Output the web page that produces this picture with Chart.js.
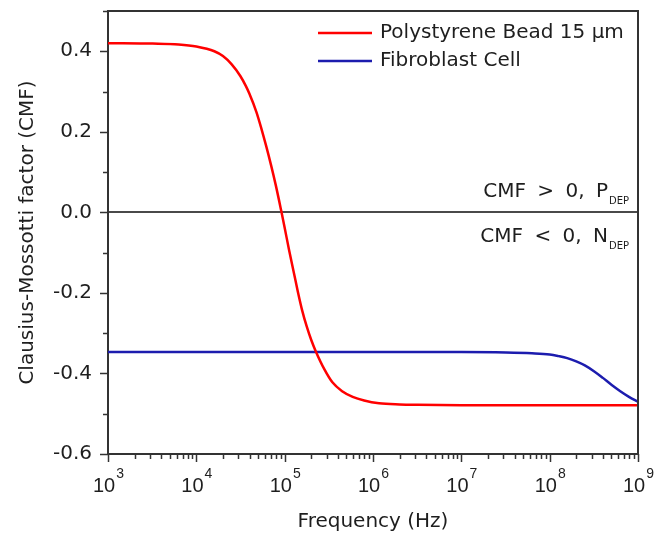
<!DOCTYPE html>
<html>
<head>
<meta charset="utf-8">
<script src="https://cdn.jsdelivr.net/npm/chart.js@4.4.0/dist/chart.umd.min.js"></script>
<style>
  body { margin: 0; background: #fff; }
  #wrap { width: 667px; height: 537px; }
</style>
</head>
<body>
<div id="wrap"><canvas id="cmfChart"></canvas></div>
<script>
// --- data (frequency in Hz, CMF) ---
const beadFreq = [1e3, 3.2e3, 6.3e3, 1e4, 1.6e4, 2e4, 2.5e4, 3.16e4, 3.63e4, 3.98e4, 4.79e4, 5.5e4,
                  6.17e4, 7e4, 7.94e4, 9.12e4, 1e5, 1.12e5, 1.26e5, 1.41e5, 1.58e5, 1.78e5, 2e5,
                  2.24e5, 2.82e5, 3.47e5, 4.47e5, 5.89e5, 7.94e5, 1.17e6, 2e6, 3.2e6, 1e7, 1e8, 1e9];
const beadCmf = [0.420, 0.419, 0.417, 0.412, 0.400, 0.388, 0.368, 0.338, 0.314, 0.295, 0.249, 0.205,
                 0.165, 0.118, 0.067, 0.005, -0.038, -0.093, -0.146, -0.197, -0.244, -0.284, -0.317,
                 -0.344, -0.390, -0.422, -0.444, -0.458, -0.467, -0.474, -0.477, -0.478, -0.479, -0.479, -0.479];

const cellFreq = [1e3, 1e5, 1e7, 3.2e7, 6.3e7, 1e8, 1.26e8, 1.58e8, 2e8, 2.5e8, 3.2e8, 4e8,
                  5e8, 6.3e8, 7.9e8, 1e9];
const cellCmf = [-0.347, -0.347, -0.347, -0.348, -0.350, -0.353, -0.357, -0.362, -0.370, -0.380,
                 -0.395, -0.411, -0.428, -0.444, -0.458, -0.470];

const seriesNames = ['Polystyrene Bead 15 \u03bcm', 'Fibroblast Cell'];
const seriesColors = ['#ff0000', '#1c1cae'];

const yLabels = [-0.6, -0.4, -0.2, 0.0, 0.2, 0.4];
const decades = [3, 4, 5, 6, 7, 8, 9];

const TXT = '#1e1e1e';
const AXIS = '#333';
const FONT = "'DejaVu Sans'";

function toPoints(xs, ys) {
    return xs.map((f, i) => ({ x: f, y: ys[i] }));
}

// custom bits: frame, tick marks, 10^n labels, legend, region notes
const extras = {
    id: 'extras',
    afterDraw(chart) {
        const { ctx, chartArea: a, scales: { x, y } } = chart;
        ctx.save();
        ctx.strokeStyle = AXIS;
        ctx.lineWidth = 2;
        ctx.beginPath();
        ctx.moveTo(a.left, a.top);
        ctx.lineTo(a.right, a.top);
        ctx.lineTo(a.right, a.bottom);
        ctx.stroke();

        // y tick marks (outside)
        ctx.lineWidth = 1.5;
        y.ticks.forEach(t => {
            const py = Math.round(y.getPixelForValue(t.value)) + 0.5;
            const major = yLabels.some(v => Math.abs(v - t.value) < 1e-6);
            ctx.beginPath();
            ctx.moveTo(a.left, py);
            ctx.lineTo(a.left - (major ? 8 : 5), py);
            ctx.stroke();
        });

        // x tick marks (outside) + labels
        decades.forEach((d, i) => {
            for (let m = 1; m <= 9; m++) {
                if (i === decades.length - 1 && m > 1) break;
                const px = Math.round(x.getPixelForValue(m * Math.pow(10, d))) + 0.5;
                ctx.beginPath();
                ctx.moveTo(px, a.bottom);
                ctx.lineTo(px, a.bottom + (m === 1 ? 8 : 5));
                ctx.stroke();
            }
            const cx = x.getPixelForValue(Math.pow(10, d));
            ctx.fillStyle = TXT;
            ctx.textBaseline = 'alphabetic';
            ctx.textAlign = 'left';
            ctx.font = "20px 'Liberation Sans'";
            const w1 = ctx.measureText('10').width;
            ctx.font = "14px 'Liberation Sans'";
            const w2 = ctx.measureText(String(d)).width;
            const x0 = cx - (w1 + w2) / 2;
            ctx.font = "20px 'Liberation Sans'";
            ctx.fillText('10', x0, a.bottom + 38);
            ctx.font = "14px 'Liberation Sans'";
            ctx.fillText(String(d), x0 + w1 + 1, a.bottom + 24);
        });

        // legend inside the plot
        chart.data.datasets.forEach((ds, i) => {
            const ly = a.top + 22 + i * 28;
            ctx.strokeStyle = ds.borderColor;
            ctx.lineWidth = 2.5;
            ctx.beginPath();
            ctx.moveTo(318, ly);
            ctx.lineTo(372, ly);
            ctx.stroke();
            ctx.fillStyle = TXT;
            ctx.font = '20px ' + FONT;
            ctx.textAlign = 'left';
            ctx.textBaseline = 'middle';
            ctx.fillText(ds.label, 380, ly);
        });

        // region notes near the zero line
        const y0 = y.getPixelForValue(0);
        const note = (main, sub, base) => {
            ctx.textAlign = 'right';
            ctx.textBaseline = 'alphabetic';
            ctx.wordSpacing = '0px';
            ctx.font = '10px ' + FONT;
            const ws = ctx.measureText(sub).width;
            ctx.fillText(sub, a.right - 9, base + 7);
            ctx.font = '20px ' + FONT;
            ctx.wordSpacing = '5px';
            ctx.fillText(main, a.right - 10 - ws, base);
        };
        ctx.fillStyle = TXT;
        note('CMF > 0, P', 'DEP', y0 - 15);
        note('CMF < 0, N', 'DEP', y0 + 30);
        ctx.restore();
    }
};

const ctx = document.getElementById('cmfChart').getContext('2d');
new Chart(ctx, {
    type: 'line',
    data: {
        datasets: [
            {
                label: seriesNames[0],
                data: toPoints(beadFreq, beadCmf),
                borderColor: seriesColors[0],
                borderWidth: 2.5,
                pointRadius: 0,
                cubicInterpolationMode: 'monotone'
            },
            {
                label: seriesNames[1],
                data: toPoints(cellFreq, cellCmf),
                borderColor: seriesColors[1],
                borderWidth: 2.5,
                pointRadius: 0,
                cubicInterpolationMode: 'monotone'
            }
        ]
    },
    options: {
        responsive: true,
        maintainAspectRatio: false,
        animation: false,
        layout: { padding: { top: 11, right: 29, bottom: 1, left: 0 } },
        plugins: {
            legend: { display: false },
            tooltip: { enabled: false }
        },
        scales: {
            x: {
                type: 'logarithmic',
                min: 1e3,
                max: 1e9,
                grid: { display: false },
                border: { display: true, color: AXIS, width: 2 },
                ticks: { display: false },
                title: {
                    display: true,
                    text: 'Frequency (Hz)',
                    color: TXT,
                    font: { family: FONT, size: 20 },
                    padding: { top: 0, bottom: 2 }
                },
                afterFit: s => {
                    s.height = 82;
                    s.paddingLeft = 0;
                    s.paddingRight = 0;
                }
            },
            y: {
                min: -0.6,
                max: 0.5,
                grid: {
                    drawTicks: false,
                    lineWidth: 2,
                    color: c => Math.abs(c.tick.value) < 1e-9 ? '#4a4a4a' : 'rgba(0,0,0,0)'
                },
                border: { display: true, color: AXIS, width: 2 },
                ticks: {
                    stepSize: 0.1,
                    autoSkip: false,
                    padding: 16,
                    color: TXT,
                    font: { family: FONT, size: 20 },
                    callback: v => {
                        if (!yLabels.some(l => Math.abs(l - v) < 1e-6)) return '';
                        return Math.abs(v) < 1e-9 ? '0.0' : v.toFixed(1);
                    }
                },
                title: {
                    display: true,
                    text: 'Clausius-Mossotti factor (CMF)',
                    color: TXT,
                    font: { family: FONT, size: 20 },
                    padding: { top: 16, bottom: 0 }
                },
                afterFit: s => {
                    s.width = 108;
                    s.paddingTop = 0;
                    s.paddingBottom = 0;
                }
            }
        }
    },
    plugins: [extras]
});
</script>
</body>
</html>
